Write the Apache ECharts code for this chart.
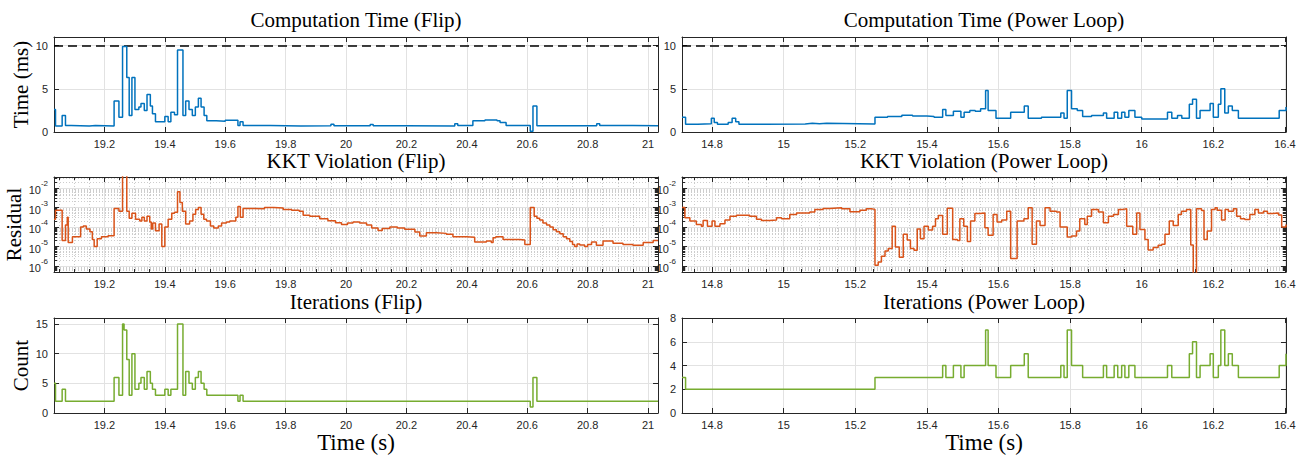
<!DOCTYPE html>
<html><head><meta charset="utf-8">
<script src="https://cdn.jsdelivr.net/npm/echarts@6/dist/echarts.min.js"></script>
<style>html,body{margin:0;padding:0;background:#fff}#c{width:1306px;height:457px}</style>
</head><body><div id="c"></div>
<script>
// ---------------- DATA ----------------
const flipRange = [19.033, 21.033];
const powerRange = [14.716, 16.403];
const timeLimitMs = 10;

// Computation time (ms), stairs: value holds from t[i] to t[i+1]
const flipCompT  = [19.033,19.038,19.06,19.071,19.09,19.15,19.17,19.232,19.248,19.26,19.274,19.282,19.291,19.301,19.314,19.321,19.332,19.341,19.352,19.359,19.369,19.4,19.411,19.42,19.432,19.442,19.46,19.469,19.48,19.491,19.501,19.511,19.52,19.53,19.539,19.57,19.6,19.642,19.649,19.659,19.75,19.85,19.95,19.96,20.08,20.09,20.2,20.36,20.37,20.42,20.46,20.5,20.51,20.53,20.61,20.619,20.632,20.83,20.84,20.95,21.033];
const flipCompMs = [2.6,0.7,1.9,0.75,0.7,0.75,0.7,3.6,1.7,9.9,6.3,1.9,6.3,2.6,2.9,3.3,2.5,4.35,3.0,2.1,1.2,1.8,1.2,2.3,2.0,9.5,1.9,3.6,2.6,1.9,2.9,3.9,2.9,1.9,1.3,1.25,1.35,0.75,1.2,0.75,0.7,0.72,0.9,0.72,0.88,0.72,0.7,0.95,0.75,1.3,1.4,1.3,1.1,0.75,0.1,3.0,0.72,0.95,0.75,0.72,0.72];

const powerCompT  = [14.716,14.726,14.76,14.798,14.806,14.815,14.845,14.856,14.866,14.875,14.95,15.06,15.08,15.1,15.12,15.255,15.29,15.33,15.36,15.4,15.42,15.444,15.453,15.474,15.495,15.504,15.52,15.535,15.55,15.564,15.571,15.593,15.634,15.672,15.683,15.72,15.774,15.783,15.792,15.804,15.82,15.835,15.86,15.893,15.902,15.923,15.933,15.944,15.953,15.964,15.981,16.0,16.072,16.084,16.1,16.112,16.133,16.142,16.153,16.163,16.191,16.2,16.214,16.221,16.232,16.242,16.253,16.27,16.384,16.403];
const powerCompMs = [1.7,0.9,0.95,1.6,1.1,0.9,1.1,1.6,1.2,0.9,0.92,1.0,0.95,1.0,0.92,1.7,1.8,1.95,1.85,1.8,1.7,2.6,1.9,2.4,1.7,2.3,2.5,2.4,2.7,4.8,2.5,1.6,2.3,3.0,1.6,1.7,2.2,1.6,4.8,2.7,2.5,1.8,1.9,2.2,1.6,2.3,1.6,2.3,1.7,2.5,1.7,1.5,2.3,1.6,1.9,1.6,3.2,3.8,1.6,2.5,3.3,1.7,3.2,5.0,2.2,3.0,2.5,1.6,2.5,2.9];

// KKT residual, stored as log10(residual)
const flipKktT = [19.033,19.038,19.06,19.071,19.077,19.08,19.094,19.121,19.13,19.14,19.152,19.16,19.166,19.176,19.19,19.212,19.232,19.248,19.26,19.274,19.282,19.291,19.303,19.317,19.324,19.332,19.341,19.35,19.355,19.36,19.369,19.381,19.39,19.4,19.411,19.423,19.432,19.442,19.45,19.458,19.469,19.482,19.493,19.502,19.511,19.52,19.529,19.538,19.551,19.562,19.577,19.588,19.604,19.615,19.635,19.642,19.65,19.659,19.69,19.73,19.76,19.792,19.82,19.845,19.858,19.88,19.913,19.94,19.965,19.985,20.005,20.023,20.045,20.068,20.085,20.106,20.12,20.145,20.17,20.194,20.228,20.244,20.266,20.3,20.332,20.354,20.399,20.426,20.465,20.481,20.487,20.496,20.52,20.575,20.592,20.61,20.623,20.632,20.641,20.652,20.664,20.675,20.686,20.697,20.708,20.719,20.73,20.741,20.75,20.757,20.765,20.774,20.79,20.8,20.813,20.829,20.851,20.884,20.917,20.95,20.984,21.017,21.033];
const flipKktLog10 = [-3.6,-3.15,-4.7,-3.9,-3.5,-4.8,-4.5,-4.0,-3.95,-4.1,-4.25,-4.65,-5.0,-4.6,-4.5,-4.45,-3.05,-3.2,-1.3,-3.2,-3.55,-3.3,-3.6,-3.7,-3.5,-3.7,-3.45,-3.75,-4.1,-3.8,-4.2,-3.85,-5.0,-4.0,-3.6,-3.3,-3.25,-2.2,-2.75,-3.2,-3.85,-3.7,-3.35,-3.1,-3.0,-3.35,-3.6,-3.7,-3.95,-4.05,-3.95,-3.8,-3.75,-3.7,-3.5,-2.95,-3.5,-3.05,-3.07,-3.0,-3.03,-3.1,-3.15,-3.2,-3.4,-3.45,-3.58,-3.68,-3.78,-3.87,-3.8,-3.75,-3.8,-3.9,-4.05,-4.18,-4.08,-4.0,-4.05,-4.12,-4.26,-4.47,-4.3,-4.33,-4.38,-4.5,-4.53,-4.77,-4.72,-4.8,-4.55,-4.5,-4.64,-4.67,-4.9,-3.0,-3.45,-3.55,-3.65,-3.8,-3.9,-4.0,-4.15,-4.25,-4.35,-4.5,-4.6,-4.75,-4.9,-5.0,-4.88,-4.92,-5.0,-4.9,-4.77,-4.94,-4.72,-4.84,-4.9,-4.94,-4.8,-4.69,-4.69];

const powerKktT = [14.716,14.724,14.738,14.756,14.77,14.775,14.787,14.8,14.808,14.822,14.836,14.85,14.868,14.905,14.924,14.938,14.961,14.98,14.994,15.017,15.036,15.073,15.087,15.11,15.129,15.162,15.185,15.213,15.231,15.245,15.255,15.264,15.273,15.283,15.292,15.303,15.312,15.323,15.334,15.345,15.354,15.364,15.373,15.382,15.392,15.404,15.416,15.424,15.432,15.444,15.457,15.472,15.485,15.492,15.503,15.513,15.522,15.534,15.548,15.562,15.571,15.585,15.596,15.609,15.623,15.634,15.652,15.671,15.683,15.694,15.706,15.716,15.73,15.744,15.762,15.772,15.792,15.804,15.818,15.827,15.841,15.848,15.86,15.879,15.893,15.907,15.921,15.935,15.948,15.958,15.975,15.986,15.995,16.009,16.018,16.032,16.046,16.056,16.065,16.077,16.088,16.102,16.111,16.125,16.137,16.144,16.153,16.167,16.174,16.183,16.195,16.205,16.211,16.223,16.233,16.242,16.256,16.265,16.276,16.288,16.302,16.316,16.326,16.34,16.351,16.366,16.382,16.391,16.403];
const powerKktLog10 = [-3.0,-3.53,-3.7,-3.87,-3.96,-3.67,-3.96,-3.7,-3.96,-3.84,-3.65,-3.45,-3.4,-3.45,-3.6,-3.67,-3.64,-3.53,-3.58,-3.36,-3.28,-3.24,-3.1,-3.05,-3.02,-3.07,-3.22,-3.15,-3.07,-3.1,-5.96,-5.8,-5.5,-5.23,-5.1,-3.96,-5.03,-5.55,-4.38,-4.67,-5.1,-5.2,-4.1,-4.6,-3.96,-4.16,-3.96,-3.58,-3.41,-4.38,-3.04,-4.64,-4.69,-3.58,-3.96,-4.75,-3.7,-3.31,-3.28,-4.04,-4.43,-3.36,-3.75,-3.65,-3.19,-5.62,-3.7,-3.58,-3.02,-4.89,-3.7,-3.92,-3.02,-3.19,-3.24,-4.0,-4.52,-4.47,-4.21,-3.58,-3.87,-3.45,-3.1,-3.24,-3.79,-3.45,-3.36,-3.1,-3.07,-3.96,-4.38,-3.28,-4.13,-4.64,-5.18,-5.06,-4.94,-4.89,-4.38,-3.7,-3.92,-3.36,-3.19,-3.1,-4.93,-6.4,-3.07,-3.16,-4.64,-4.21,-3.1,-3.02,-3.14,-3.65,-3.1,-3.19,-3.07,-3.45,-3.58,-3.62,-3.36,-3.1,-3.28,-3.19,-3.31,-3.28,-3.39,-4.0,-3.87];

// Iteration counts
const flipIterT = [19.033,19.038,19.06,19.071,19.232,19.248,19.26,19.265,19.274,19.282,19.291,19.301,19.314,19.321,19.332,19.341,19.352,19.359,19.369,19.4,19.411,19.42,19.442,19.46,19.469,19.48,19.491,19.501,19.511,19.52,19.53,19.539,19.642,19.649,19.659,20.61,20.619,20.632,21.033];
const flipIterCount = [5,2,4,2,6,3,15,14,9,3,10,4,5,6,4,7,5,4,3,4,3,4,15,3,7,5,4,6,7,5,4,3,2,3,2,1,6,2,2];

const powerIterT = [14.716,14.726,15.255,15.444,15.453,15.474,15.495,15.504,15.564,15.571,15.593,15.634,15.672,15.683,15.774,15.783,15.792,15.804,15.835,15.893,15.902,15.923,15.933,15.944,15.953,15.964,15.981,16.072,16.084,16.133,16.142,16.153,16.163,16.191,16.2,16.214,16.221,16.232,16.242,16.253,16.27,16.384,16.403];
const powerIterCount = [3,2,3,4,3,4,3,4,7,4,3,4,5,3,4,3,7,4,3,4,3,4,3,4,3,4,3,4,3,5,6,3,4,5,3,4,7,4,5,4,3,4,5];

const titles = ['Computation Time (Flip)','Computation Time (Power Loop)','KKT Violation (Flip)','KKT Violation (Power Loop)','Iterations (Flip)','Iterations (Power Loop)'];
const yNames = ['Time (ms)','Residual','Count'];
const xName = 'Time (s)';

// ---------------- CHART ----------------
const INK = '#262626', GRIDC = '#e2e2e2', MINORC = '#cdcdcd';
const SANS = '"Liberation Sans", Arial, Helvetica, sans-serif';
const SERIF = '"Liberation Serif", "Times New Roman", serif';
const C_BLUE = '#0072BD', C_ORANGE = '#D95319', C_GREEN = '#77AC30';

const cols = [{left: 54, width: 604, range: flipRange, cx: 356}, {left: 682, width: 604, range: powerRange, cx: 984}];
const rowTop = [37, 177, 318], rowH = 95, titleY = [20, 160.5, 301.5];

const logMinor = [];
for (let e = -7; e <= -2; e++) for (let k = 2; k <= 9; k++) { const v = e + Math.log10(k); if (v > -6.31 && v < -1.44) logMinor.push(v); }

const grid = [], xAxis = [], yAxis = [], series = [], title = [];

const tickStyle = (len) => ({show: true, inside: true, length: len, lineStyle: {color: INK, width: 1}});
const lineStyle = {show: true, onZero: false, lineStyle: {color: INK, width: 1}};

function mult(v, step) { const r = v / step; return Math.abs(r - Math.round(r)) < 1e-6; }

function panel(row, col, cfg) {
  const g = grid.length;
  const c = cols[col];
  grid.push({left: c.left, top: rowTop[row], width: c.width, height: rowH, containLabel: false});
  title.push({text: titles[row * 2 + col], left: c.cx, top: titleY[row], textAlign: 'center', textVerticalAlign: 'middle', padding: 0,
    textStyle: {fontFamily: SERIF, fontSize: 21, fontWeight: 'normal', color: '#000'}});
  const minor = cfg.log;
  const xi = xAxis.length;
  xAxis.push({gridIndex: g, type: 'value', position: 'bottom', min: c.range[0], max: c.range[1], splitNumber: 10,
    axisLine: lineStyle, axisTick: tickStyle(5),
    axisLabel: {color: INK, fontSize: 11, fontFamily: SANS, margin: 6, formatter: v => mult(v, 0.2) ? String(Math.round(v * 10) / 10) : ''},
    splitLine: {show: true, lineStyle: {color: GRIDC, width: 1}},
    minorTick: {show: !!minor, splitNumber: 4, length: 3, lineStyle: {color: INK}},
    minorSplitLine: {show: !!minor, lineStyle: {color: MINORC, width: 1, type: [1, 2]}},
    name: cfg.xName || '', nameLocation: 'middle', nameGap: 17,
    nameTextStyle: {fontFamily: SERIF, fontSize: 23, color: '#000'}});
  xAxis.push({gridIndex: g, type: 'value', position: 'top', min: c.range[0], max: c.range[1], splitNumber: 10,
    axisLine: lineStyle, axisTick: tickStyle(5), axisLabel: {show: false}, splitLine: {show: false},
    minorTick: {show: !!minor, splitNumber: 4, length: 3, lineStyle: {color: INK}}});
  const yi = yAxis.length;
  const ybase = {gridIndex: g, type: 'value', min: cfg.min, max: cfg.max};
  if (cfg.interval) ybase.interval = cfg.interval;
  const yMain = Object.assign({}, ybase, {position: 'left', axisLine: lineStyle, axisTick: tickStyle(5),
    splitLine: {show: true, lineStyle: {color: GRIDC, width: 1}},
    name: cfg.yName || '', nameLocation: 'middle', nameRotate: 90, nameGap: cfg.yNameGap || 20,
    nameTextStyle: {fontFamily: SERIF, fontSize: 21, color: '#000'}});
  if (cfg.log) {
    yMain.axisLabel = {margin: 6, formatter: v => mult(v, 1) ? '{b|10}{s|' + Math.round(v) + '}' : '',
      rich: {b: {fontSize: 11, fontFamily: SANS, color: INK, verticalAlign: 'bottom', lineHeight: 16},
             s: {fontSize: 8, fontFamily: SANS, color: INK, verticalAlign: 'top', lineHeight: 16}}};
  } else {
    yMain.axisLabel = {color: INK, fontSize: 11, fontFamily: SANS, margin: 6, formatter: v => mult(v, cfg.interval) ? String(v) : ''};
  }
  yAxis.push(yMain);
  yAxis.push(Object.assign({}, ybase, {position: 'right', axisLine: lineStyle, axisTick: tickStyle(5), axisLabel: {show: false}, splitLine: {show: false}}));
  if (cfg.log) {
    yAxis.push(Object.assign({}, ybase, {position: 'left', axisLine: {show: false}, axisLabel: {show: false},
      axisTick: {show: true, inside: true, length: 3, customValues: logMinor, lineStyle: {color: INK}},
      splitLine: {show: true, lineStyle: {color: MINORC, width: 1, type: [1, 2]}}}));
    yAxis.push(Object.assign({}, ybase, {position: 'right', axisLine: {show: false}, axisLabel: {show: false},
      axisTick: {show: true, inside: true, length: 3, customValues: logMinor, lineStyle: {color: INK}},
      splitLine: {show: false}}));
  }
  const s = {type: 'line', xAxisIndex: xi, yAxisIndex: yi, step: 'end', showSymbol: false, symbol: 'none',
    data: cfg.t.map((t, i) => [t, cfg.v[i]]), lineStyle: {color: cfg.color, width: 1.5}, itemStyle: {color: cfg.color},
    silent: true, clip: true, z: 5};
  if (cfg.limit != null) {
    s.markLine = {silent: true, symbol: ['none', 'none'], label: {show: false},
      lineStyle: {color: '#000', type: [9, 5], width: 1.5}, data: [{yAxis: cfg.limit}]};
  }
  series.push(s);
}

panel(0, 0, {min: 0, max: 11, interval: 5, t: flipCompT, v: flipCompMs, color: C_BLUE, limit: timeLimitMs, yName: yNames[0], yNameGap: 19});
panel(0, 1, {min: 0, max: 11, interval: 5, t: powerCompT, v: powerCompMs, color: C_BLUE, limit: timeLimitMs});
panel(1, 0, {min: -6.31, max: -1.44, log: true, t: flipKktT, v: flipKktLog10, color: C_ORANGE, yName: yNames[1], yNameGap: 29});
panel(1, 1, {min: -6.31, max: -1.44, log: true, t: powerKktT, v: powerKktLog10, color: C_ORANGE});
panel(2, 0, {min: 0, max: 16, interval: 5, t: flipIterT, v: flipIterCount, color: C_GREEN, yName: yNames[2], yNameGap: 20, xName: xName});
panel(2, 1, {min: 0, max: 8, interval: 2, t: powerIterT, v: powerIterCount, color: C_GREEN, xName: xName});

const chart = echarts.init(document.getElementById('c'), null, {renderer: 'svg', width: 1306, height: 457});
chart.setOption({animation: false, backgroundColor: '#fff', textStyle: {fontFamily: SANS},
  title, grid, xAxis, yAxis, series});
</script></body></html>
